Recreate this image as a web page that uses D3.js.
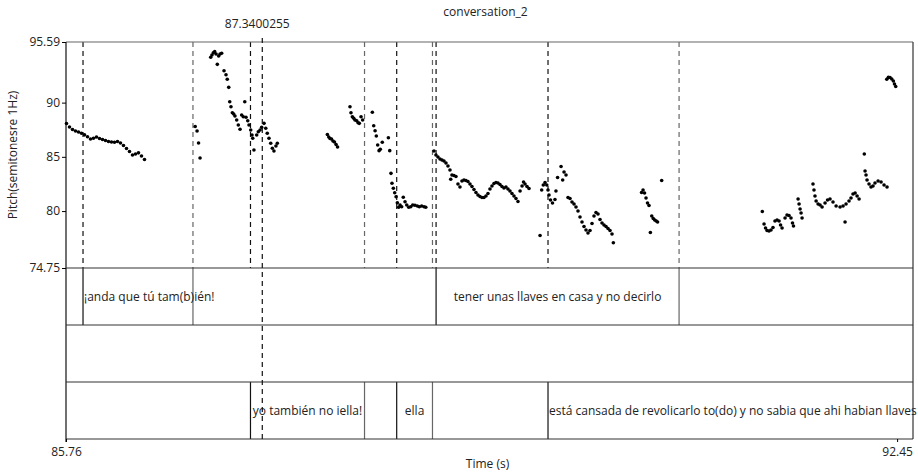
<!DOCTYPE html>
<html>
<head>
  <title>conversation_2</title>
  <script src="https://d3js.org/d3.v7.min.js"></script>
  <style>
    body { margin: 0; background: white; }
    #chart text { font-family: "Open Sans", sans-serif; font-size: 12px; fill: #222; }
  </style>
</head>
<body>
<svg id="chart" width="918" height="475"></svg>
<script>
    const timeRange = [85.76, 92.578];
    const timeTicks = [85.76, 92.45];
    const pitchRange = [74.75, 95.59];
    const pitchTicks = [95.59, 90, 85, 80, 74.75];
    const cursorTime = 87.3400255;

    // dense stretches of the pitch track: start time, step, pitch values
    const pitchRuns = [
        {t0: 85.764, dt: 0.02415, p: [88.07, 87.75, 87.52, 87.38, 87.29, 87.18, 87.03, 86.85, 86.64, 86.71,
            86.83, 86.69, 86.60, 86.51, 86.41, 86.37, 86.34, 86.41, 86.28, 86.05, 85.77, 85.49, 85.17, 85.26,
            85.37, 85.08, 84.75]},
        {t0: 88.722, dt: 0.0161, p: [85.54, 85.17, 84.98, 84.80, 84.71, 84.62, 84.43, 84.15, 83.79, 83.33,
            83.28, 83.19, 82.50, 82.22, 82.77, 82.86, 82.82, 82.73, 82.50, 82.26, 81.99, 81.71, 81.48, 81.34,
            81.25, 81.25, 81.39, 81.62, 82.03, 82.31, 82.54, 82.63, 82.59, 82.45, 82.26, 82.13, 82.22, 82.03,
            81.85, 81.62, 81.39, 81.16, 80.88]},
        {t0: 89.801, dt: 0.0161, p: [81.25, 81.16, 80.84, 80.65, 80.37, 80.00, 79.45, 78.99, 78.58, 78.25,
            77.98, 78.21, 78.85, 79.54, 79.87, 79.73, 79.22, 78.90, 78.71, 78.58, 78.39, 78.21, 77.88]}
    ];

    // scattered pitch points [time, pitch]
    const pitchPoints = [
        [86.80, 87.80], [86.815, 87.38], [86.827, 86.28], [86.839, 84.89],
        [86.925, 94.18], [86.935, 94.39], [86.946, 94.60], [86.957, 94.70], [86.968, 94.48], [86.978, 93.53],
        [86.989, 94.30], [87.000, 94.48], [87.013, 94.55], [87.032, 92.94], [87.048, 92.57], [87.058, 92.15],
        [87.070, 91.41], [87.078, 90.08], [87.088, 89.62], [87.099, 89.07], [87.110, 88.95], [87.120, 88.77],
        [87.134, 88.40], [87.147, 87.94], [87.161, 87.54], [87.174, 88.86], [87.187, 88.70], [87.199, 90.08],
        [87.209, 88.65], [87.223, 88.33], [87.233, 87.94], [87.247, 87.47], [87.257, 87.01], [87.263, 86.71],
        [87.273, 85.63], [87.295, 87.01], [87.308, 87.32], [87.322, 87.47], [87.335, 87.72], [87.354, 88.09],
        [87.368, 87.63], [87.380, 87.17], [87.394, 86.71], [87.408, 86.25], [87.421, 85.79], [87.434, 85.54],
        [87.450, 86.00], [87.461, 86.25],
        [87.864, 87.06], [87.875, 86.83], [87.885, 86.69], [87.897, 86.64], [87.909, 86.46], [87.921, 86.37],
        [87.934, 86.14], [87.946, 85.91],
        [88.046, 89.62], [88.054, 89.07], [88.065, 88.70], [88.076, 88.55], [88.086, 88.40], [88.100, 88.33],
        [88.111, 88.15], [88.121, 88.09], [88.135, 88.70], [88.148, 88.40],
        [88.226, 89.11], [88.237, 87.87], [88.248, 87.41], [88.258, 86.92], [88.269, 86.09], [88.280, 85.57],
        [88.290, 85.69], [88.306, 86.34], [88.355, 86.76], [88.366, 85.57],
        [88.376, 83.48], [88.384, 82.56], [88.395, 82.10], [88.406, 81.69], [88.417, 81.32], [88.427, 80.77],
        [88.438, 80.35], [88.449, 80.56], [88.462, 80.40], [88.475, 81.27], [88.489, 80.86], [88.503, 80.56],
        [88.519, 80.35], [88.535, 80.40], [88.551, 80.56], [88.569, 80.53], [88.588, 80.47], [88.604, 80.40],
        [88.623, 80.47], [88.642, 80.40], [88.656, 80.35],
        [88.857, 82.93],
        [89.415, 81.85], [89.431, 82.31], [89.443, 82.68], [89.455, 82.50], [89.471, 82.26], [89.487, 82.08],
        [89.576, 77.75], [89.589, 81.94], [89.602, 82.40], [89.616, 82.63], [89.630, 82.40], [89.640, 81.94],
        [89.648, 81.48], [89.660, 81.02], [89.676, 80.74], [89.696, 81.07], [89.704, 81.85], [89.717, 83.09],
        [89.745, 84.11], [89.758, 82.86], [89.769, 83.60], [89.785, 83.33],
        [90.166, 77.08],
        [90.393, 81.71], [90.405, 81.94], [90.417, 81.66], [90.429, 81.20], [90.441, 80.74], [90.453, 80.51],
        [90.464, 78.02], [90.475, 79.54], [90.487, 79.31], [90.499, 79.17], [90.511, 79.08], [90.522, 78.99],
        [90.555, 82.82],
        [91.365, 79.96], [91.379, 78.81], [91.391, 78.44], [91.403, 78.21], [91.419, 78.16], [91.435, 78.25],
        [91.451, 78.48], [91.467, 79.08], [91.484, 79.17], [91.500, 79.08], [91.512, 78.71], [91.524, 78.44],
        [91.548, 79.36], [91.564, 79.64], [91.580, 79.59], [91.596, 79.36], [91.608, 78.90], [91.616, 78.62],
        [91.653, 81.11], [91.661, 80.65], [91.669, 80.19], [91.677, 79.82], [91.685, 79.36],
        [91.773, 82.50], [91.781, 81.94], [91.789, 81.39], [91.798, 80.93], [91.814, 80.65], [91.830, 80.56],
        [91.846, 80.37], [91.870, 80.74], [91.890, 81.02], [91.910, 81.11], [91.934, 80.84], [91.959, 80.47],
        [91.991, 80.37], [92.015, 80.47], [92.031, 78.99], [92.039, 80.65], [92.063, 80.93], [92.079, 81.20],
        [92.095, 81.57], [92.112, 81.66], [92.128, 81.39], [92.144, 81.11],
        [92.186, 85.26], [92.192, 83.69], [92.200, 83.33], [92.208, 82.86], [92.224, 82.50], [92.240, 82.22],
        [92.256, 82.31], [92.272, 82.59], [92.297, 82.77], [92.321, 82.68], [92.345, 82.40], [92.369, 82.22],
        [92.367, 92.15], [92.380, 92.33], [92.393, 92.32], [92.407, 92.18], [92.420, 91.99], [92.429, 91.72],
        [92.439, 91.49]
    ];

    // annotation tiers
    const tier1 = [
        {start: 85.897, end: 86.782, text: "¡anda que tú tam(b)ién!"},
        {start: 88.739, end: 90.695, text: "tener unas llaves en casa y no decirlo"}
    ];
    const tier2 = [];
    const tier3 = [
        {start: 87.245, end: 88.163, text: "yo también no iella!"},
        {start: 88.422, end: 88.710, text: "ella"},
        {start: 89.640, end: 92.578, text: "está cansada de revolicarlo to(do) y no sabia que ahi habian llaves"}
    ];
    const tiers = [tier1, tier2, tier3];

    const plotLeft = 66, plotRight = 913, plotTop = 42, pitchBottom = 268, tierH = 57;
    const plotBottom = pitchBottom + tierH * tiers.length;

    const svg = d3.select("#chart");

    const x = d3.scaleLinear().domain(timeRange).range([plotLeft, plotRight]);
    const y = d3.scaleLinear().domain(pitchRange).range([pitchBottom, plotTop]);

    // boundaries: interval starts drawn black, ends grey
    let bounds = [];
    tiers.forEach((tier, i) => {
        tier.forEach(d => {
            bounds.push({t: d.start, tier: i, color: "#111"});
            if (d.end < timeRange[1]) bounds.push({t: d.end, tier: i, color: "#666"});
        });
    });

    // dashed boundary lines over the pitch panel
    svg.append("g").selectAll("line")
        .data(bounds)
        .join("line")
        .attr("x1", d => x(d.t)).attr("x2", d => x(d.t))
        .attr("y1", plotTop).attr("y2", pitchBottom)
        .attr("stroke", d => d.color)
        .attr("stroke-width", 1.2)
        .attr("stroke-dasharray", "5,4");

    // solid boundary lines inside their tier
    svg.append("g").selectAll("line")
        .data(bounds)
        .join("line")
        .attr("x1", d => x(d.t)).attr("x2", d => x(d.t))
        .attr("y1", d => pitchBottom + d.tier * tierH)
        .attr("y2", d => pitchBottom + (d.tier + 1) * tierH)
        .attr("stroke", d => d.color)
        .attr("stroke-width", 1.2);

    // frame and tier separators
    const frame = svg.append("g").attr("stroke", "#333").attr("stroke-width", 1.2);
    frame.append("line").attr("x1", plotLeft).attr("x2", plotRight).attr("y1", plotTop).attr("y2", plotTop).attr("stroke", "#666");
    frame.append("line").attr("x1", plotRight).attr("x2", plotRight).attr("y1", plotTop).attr("y2", plotBottom);
    frame.append("line").attr("x1", plotLeft).attr("x2", plotLeft).attr("y1", plotTop).attr("y2", plotBottom + 3).attr("stroke", "#111");
    d3.range(tiers.length + 1).forEach(i => {
        frame.append("line")
            .attr("x1", plotLeft).attr("x2", plotRight)
            .attr("y1", pitchBottom + i * tierH).attr("y2", pitchBottom + i * tierH);
    });

    // tier labels: centred, or from the start when they don't fit
    tiers.forEach((tier, i) => {
        tier.forEach(d => {
            const t = svg.append("text")
                .attr("y", pitchBottom + i * tierH + tierH / 2)
                .attr("dy", "0.35em")
                .text(d.text);
            const w = t.node().getComputedTextLength();
            const x0 = x(d.start), x1 = x(d.end);
            if (w > x1 - x0 - 2) {
                t.attr("x", x0 + 1);
            } else {
                t.attr("x", (x0 + x1) / 2).attr("text-anchor", "middle");
            }
        });
    });

    // pitch dots
    let allPoints = pitchPoints.slice();
    pitchRuns.forEach(r => {
        r.p.forEach((v, i) => allPoints.push([r.t0 + i * r.dt, v]));
    });
    svg.append("g").selectAll("circle")
        .data(allPoints)
        .join("circle")
        .attr("cx", d => x(d[0]))
        .attr("cy", d => y(d[1]))
        .attr("r", 1.8)
        .attr("fill", "#000");

    // cursor
    svg.append("line")
        .attr("x1", x(cursorTime)).attr("x2", x(cursorTime))
        .attr("y1", plotTop - 4).attr("y2", plotBottom)
        .attr("stroke", "#111").attr("stroke-width", 1.2).attr("stroke-dasharray", "5,4");
    svg.append("text")
        .attr("x", x(cursorTime) - 5).attr("y", 28)
        .attr("text-anchor", "middle")
        .text(String(cursorTime));

    // axes
    const yAxis = svg.append("g")
        .attr("transform", `translate(${plotLeft},0)`)
        .call(d3.axisLeft(y).tickValues(pitchTicks).tickSize(4).tickPadding(2).tickFormat(d => d));
    yAxis.select(".domain").remove();
    yAxis.selectAll("text").style("font-size", "12px");

    const xAxis = svg.append("g")
        .attr("transform", `translate(0,${plotBottom})`)
        .call(d3.axisBottom(x).tickValues(timeTicks).tickSize(3).tickPadding(5).tickFormat(d => d));
    xAxis.select(".domain").remove();

    svg.append("text")
        .attr("x", (plotLeft + plotRight) / 2 - 4).attr("y", 16)
        .attr("text-anchor", "middle")
        .text("conversation_2");

    svg.append("text")
        .attr("x", (plotLeft + plotRight) / 2 - 2).attr("y", 468)
        .attr("text-anchor", "middle")
        .text("Time (s)");

    svg.append("text")
        .attr("transform", `translate(17,${(plotTop + pitchBottom) / 2}) rotate(-90)`)
        .attr("text-anchor", "middle")
        .text("Pitch(semitonesre 1Hz)");
</script>
</body>
</html>
